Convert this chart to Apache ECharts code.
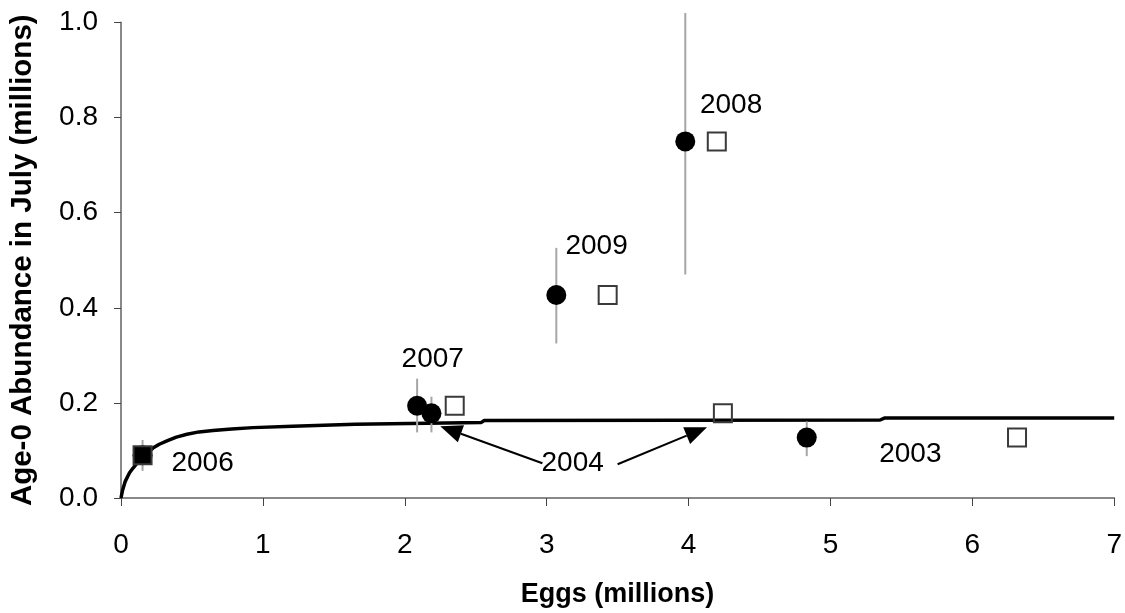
<!DOCTYPE html>
<html>
<head>
<meta charset="utf-8">
<script src="https://cdn.jsdelivr.net/npm/echarts@6/dist/echarts.min.js"></script>
<style>
  html, body { margin: 0; padding: 0; background: #fff; }
  #chart { width: 1125px; height: 613px; }
</style>
</head>
<body>
<div id="chart"></div>
<script>
// Observed age-0 abundance (filled circles): [eggs, abundance]
var years = ['2006', '2007', '2004', '2009', '2008', '2003'];
var observedEggs = [0.152, 2.087, 2.188, 3.068, 3.977, 4.833];
var observedAbundance = [0.090, 0.194, 0.178, 0.427, 0.750, 0.127];
// Confidence limits for the observed abundance
var abundanceLow = [0.057, 0.138, 0.138, 0.325, 0.470, 0.088];
var abundanceHigh = [0.122, 0.251, 0.213, 0.526, 1.020, 0.161];
// Alternative egg estimates (open squares), same abundance
var altEggs = [0.152, 2.352, 4.242, 3.430, 4.199, 6.315];

// Fitted stock-recruitment curve
var curveEggs = [0, 0.01, 0.03, 0.06, 0.085, 0.12, 0.15, 0.19, 0.225, 0.27, 0.324, 0.39, 0.465, 0.55, 0.648,
  0.78, 0.93, 1.21, 1.22, 1.65, 1.66, 2.54, 2.56, 5.35, 5.38, 7];
var curveAbundance = [0, 0.015, 0.035, 0.053, 0.063, 0.076, 0.085, 0.096, 0.105, 0.113, 0.120, 0.128, 0.134, 0.139, 0.142,
  0.145, 0.148, 0.151, 0.153, 0.155, 0.157, 0.159, 0.163, 0.164, 0.168, 0.168];

// Year annotations: [eggs, abundance, text]
var labelEggs = [0.575, 2.197, 3.352, 4.300, 5.563, 3.183];
var labelAbundance = [0.073, 0.292, 0.530, 0.825, 0.092, 0.073];
var labelText = ['2006', '2007', '2009', '2008', '2003', '2004'];

// Arrows from the 2004 label: [tailX, tailY, tipX, tipY]
var arrowTailEggs = [2.97, 3.50];
var arrowTailAbundance = [0.073, 0.071];
var arrowTipEggs = [2.25, 4.13];
var arrowTipAbundance = [0.151, 0.149];

var xTicks = { min: 0, max: 7, interval: 1 };
var yTicks = { min: 0, max: 1, interval: 0.2 };

var FONT = "'Liberation Sans', Arial, Helvetica, sans-serif";

function zip() {
  var arrays = Array.prototype.slice.call(arguments);
  return arrays[0].map(function (_, i) {
    return arrays.map(function (a) { return a[i]; });
  });
}

var chart = echarts.init(document.getElementById('chart'), null, { renderer: 'canvas' });

var option = {
  animation: false,
  backgroundColor: '#fff',
  grid: { left: 121, right: 10, top: 22.5, bottom: 113, containLabel: false },
  xAxis: {
    type: 'value',
    min: xTicks.min, max: xTicks.max, interval: xTicks.interval,
    name: 'Eggs (millions)',
    nameLocation: 'middle',
    nameGap: 83,
    nameTextStyle: { fontFamily: FONT, fontSize: 27, fontWeight: 'bold', color: '#000' },
    axisLine: { show: true, onZero: false, lineStyle: { color: '#888', width: 2 } },
    axisTick: { show: true, inside: false, length: 8, lineStyle: { color: '#444', width: 1 } },
    axisLabel: { margin: 33, fontFamily: FONT, fontSize: 28, color: '#000' },
    splitLine: { show: false }
  },
  yAxis: {
    type: 'value',
    min: yTicks.min, max: yTicks.max, interval: yTicks.interval,
    name: 'Age-0 Abundance in July (millions)',
    nameLocation: 'middle',
    nameGap: 83,
    nameTextStyle: { fontFamily: FONT, fontSize: 29.5, fontWeight: 'bold', color: '#000' },
    axisLine: { show: true, lineStyle: { color: '#888', width: 2 } },
    axisTick: { show: true, inside: false, length: 7, lineStyle: { color: '#444', width: 1 } },
    axisLabel: {
      margin: 23, fontFamily: FONT, fontSize: 28, color: '#000',
      formatter: function (v) { return v.toFixed(1); }
    },
    splitLine: { show: false }
  },
  series: [
    {
      name: 'Fitted curve',
      type: 'line',
      data: zip(curveEggs, curveAbundance),
      showSymbol: false,
      smooth: false,
      lineStyle: { color: '#000', width: 3.5 },
      z: 2
    },
    {
      name: 'Confidence limits',
      type: 'custom',
      data: zip(observedEggs, abundanceLow, abundanceHigh),
      clip: false,
      z: 3,
      renderItem: function (params, api) {
        var p0 = api.coord([api.value(0), api.value(1)]);
        var p1 = api.coord([api.value(0), api.value(2)]);
        return {
          type: 'line',
          shape: { x1: p0[0], y1: p0[1], x2: p1[0], y2: p1[1] },
          style: { stroke: '#a6a6a6', lineWidth: 2 }
        };
      }
    },
    {
      name: 'Observed',
      type: 'scatter',
      data: zip(observedEggs, observedAbundance),
      symbol: 'circle',
      symbolSize: 20,
      itemStyle: { color: '#000', opacity: 1 },
      z: 4
    },
    {
      name: 'Alternative eggs',
      type: 'scatter',
      data: zip(altEggs, observedAbundance).map(function (d, i) {
        return i === 0
          ? { value: d, itemStyle: { color: '#000' } }
          : d;
      }),
      symbol: 'rect',
      symbolSize: 18,
      itemStyle: { color: 'rgba(0,0,0,0)', borderColor: '#3a3a3a', borderWidth: 2, opacity: 1 },
      z: 5
    },
    {
      name: 'Year labels',
      type: 'custom',
      data: zip(labelEggs, labelAbundance, labelText),
      clip: false,
      z: 6,
      renderItem: function (params, api) {
        var p = api.coord([api.value(0), api.value(1)]);
        return {
          type: 'text',
          x: p[0], y: p[1],
          style: {
            text: labelText[params.dataIndex],
            fill: '#000',
            font: '28px ' + FONT,
            align: 'center',
            verticalAlign: 'middle'
          }
        };
      }
    },
    {
      name: 'Arrows',
      type: 'custom',
      data: zip(arrowTailEggs, arrowTailAbundance, arrowTipEggs, arrowTipAbundance),
      clip: false,
      z: 6,
      renderItem: function (params, api) {
        var tail = api.coord([api.value(0), api.value(1)]);
        var tip = api.coord([api.value(2), api.value(3)]);
        var dx = tip[0] - tail[0], dy = tip[1] - tail[1];
        var len = Math.sqrt(dx * dx + dy * dy);
        var ux = dx / len, uy = dy / len;
        var headLen = 22, headHalf = 9;
        var base = [tip[0] - ux * headLen, tip[1] - uy * headLen];
        var left = [base[0] - uy * headHalf, base[1] + ux * headHalf];
        var right = [base[0] + uy * headHalf, base[1] - ux * headHalf];
        return {
          type: 'group',
          children: [
            {
              type: 'line',
              shape: { x1: tail[0], y1: tail[1], x2: base[0], y2: base[1] },
              style: { stroke: '#000', lineWidth: 2 }
            },
            {
              type: 'polygon',
              shape: { points: [tip, left, right] },
              style: { fill: '#000' }
            }
          ]
        };
      }
    }
  ]
};

chart.setOption(option);
</script>
</body>
</html>
